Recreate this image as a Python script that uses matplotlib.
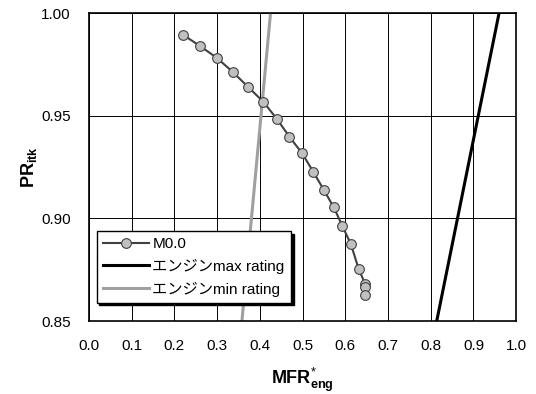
import numpy as np
import matplotlib
matplotlib.use("Agg")
import matplotlib.pyplot as plt

# =====================================================
# DATA
# =====================================================
mfr_m00 = [0.221, 0.260, 0.299, 0.336, 0.372, 0.408, 0.440, 0.469, 0.499,
           0.525, 0.550, 0.573, 0.593, 0.613, 0.631, 0.646, 0.646, 0.646]
pr_m00 = [0.9893, 0.9839, 0.9782, 0.9714, 0.9641, 0.9568, 0.9484, 0.9398,
          0.9317, 0.9227, 0.9138, 0.9054, 0.8964, 0.8875, 0.8756, 0.8683,
          0.8667, 0.8626]

mfr_max = [0.814, 0.960]
pr_max = [0.85, 1.00]

mfr_min = [0.358, 0.425]
pr_min = [0.85, 1.00]

labels = ["M0.0", "エンジンmax rating", "エンジンmin rating"]

# =====================================================
# STYLE
# =====================================================
plt.rcParams["font.family"] = ["Liberation Sans", "Noto Sans CJK JP"]
plt.rcParams["mathtext.fontset"] = "custom"
plt.rcParams["mathtext.rm"] = "Liberation Sans"
plt.rcParams["mathtext.bf"] = "Liberation Sans:bold"

fig = plt.figure(figsize=(5.36, 3.94), dpi=100)
ax = fig.add_axes([0.166, 0.185, 0.797, 0.782])

ax.plot(mfr_m00, pr_m00, "-o", color="#404040", lw=1.5,
        markerfacecolor="#c0c0c0", markeredgecolor="#404040",
        markeredgewidth=0.8, markersize=7, label=labels[0], zorder=3)
ax.plot(mfr_max, pr_max, color="black", lw=2.2, label=labels[1], zorder=2)
ax.plot(mfr_min, pr_min, color="#a0a0a0", lw=2.2, label=labels[2], zorder=2)

ax.set_xlim(0, 1.0)
ax.set_ylim(0.85, 1.00)
ax.set_xticks(np.arange(0, 1.01, 0.1))
ax.set_yticks([0.85, 0.90, 0.95, 1.00])
ax.set_xticklabels([f"{v:.1f}" for v in np.arange(0, 1.01, 0.1)])
ax.set_yticklabels(["0.85", "0.90", "0.95", "1.00"])
ax.tick_params(length=0, labelsize=11, pad=13)
ax.grid(True, color="black", lw=0.7)
for s in ax.spines.values():
    s.set_linewidth(1.2)

ax.set_xlabel(r"$\mathbf{MFR}^{*}_{\mathbf{eng}}$", fontsize=13, labelpad=9)
ax.set_ylabel(r"$\mathbf{PR}_{\mathbf{itk}}$", fontsize=13, labelpad=1.5)

leg = ax.legend(loc="lower left", bbox_to_anchor=(0.0, 0.035),
                frameon=True, fancybox=False,
                shadow={"color": "black", "alpha": 1.0},
                fontsize=11, handlelength=3.0, borderpad=0.4,
                labelspacing=0.5, handletextpad=0.25)
leg.get_frame().set_edgecolor("black")
leg.get_frame().set_linewidth(1.0)

fig.savefig("out.png", dpi=100)
